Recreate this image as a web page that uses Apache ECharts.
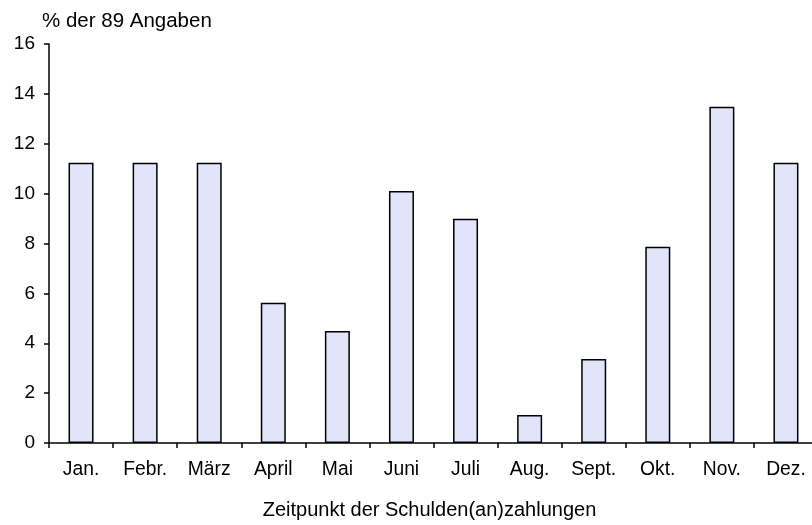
<!DOCTYPE html>
<html><head><meta charset="utf-8">
<script src="https://cdn.jsdelivr.net/npm/echarts@6/dist/echarts.min.js"></script>
<style>html,body{margin:0;padding:0;background:#fff;overflow:hidden}#c{width:818px;height:525px}</style>
</head><body><div id="c"></div>
<script>
const categories = ['Jan.','Febr.','März','April','Mai','Juni','Juli','Aug.','Sept.','Okt.','Nov.','Dez.'];
const values = [11.24, 11.24, 11.24, 5.62, 4.49, 10.11, 8.99, 1.12, 3.37, 7.87, 13.48, 11.24];
const yTicks = [0, 2, 4, 6, 8, 10, 12, 14, 16];
const font = 'Liberation Sans, Arial, sans-serif';
const chart = echarts.init(document.getElementById('c'));
chart.setOption({
  animation: false,
  grid: { left: 49, top: 44, right: 0, height: 400 },
  title: { text: '% der 89 Angaben', left: 42, top: 11, padding: 0,
    textStyle: { fontFamily: font, fontSize: 20.5, fontWeight: 'normal', color: '#000' } },
  xAxis: {
    type: 'category', data: categories,
    name: 'Zeitpunkt der Schulden(an)zahlungen', nameLocation: 'middle', nameGap: 57,
    nameTextStyle: { fontFamily: font, fontSize: 20, color: '#000', padding: [0, 8, 0, 0] },
    axisLine: { lineStyle: { color: '#000', width: 1.5 } },
    axisTick: { show: true, length: 5, lineStyle: { color: '#000', width: 1.5 } },
    axisLabel: { fontFamily: font, fontSize: 19.3, color: '#000', margin: 17, interval: 0 }
  },
  yAxis: {
    type: 'value', min: 0, max: 16, interval: 2,
    axisLine: { show: true, lineStyle: { color: '#000', width: 1.5 } },
    axisTick: { show: true, length: 5, lineStyle: { color: '#000', width: 1.5 } },
    axisLabel: { fontFamily: font, fontSize: 19, color: '#000', margin: 14,
      formatter: v => yTicks.includes(v) ? String(v) : '' },
    splitLine: { show: false }
  },
  series: [{
    type: 'bar', data: values, barWidth: 25,
    itemStyle: { color: '#E3E3FA', borderColor: '#000', borderWidth: 1.5 }
  }]
});
</script></body></html>
